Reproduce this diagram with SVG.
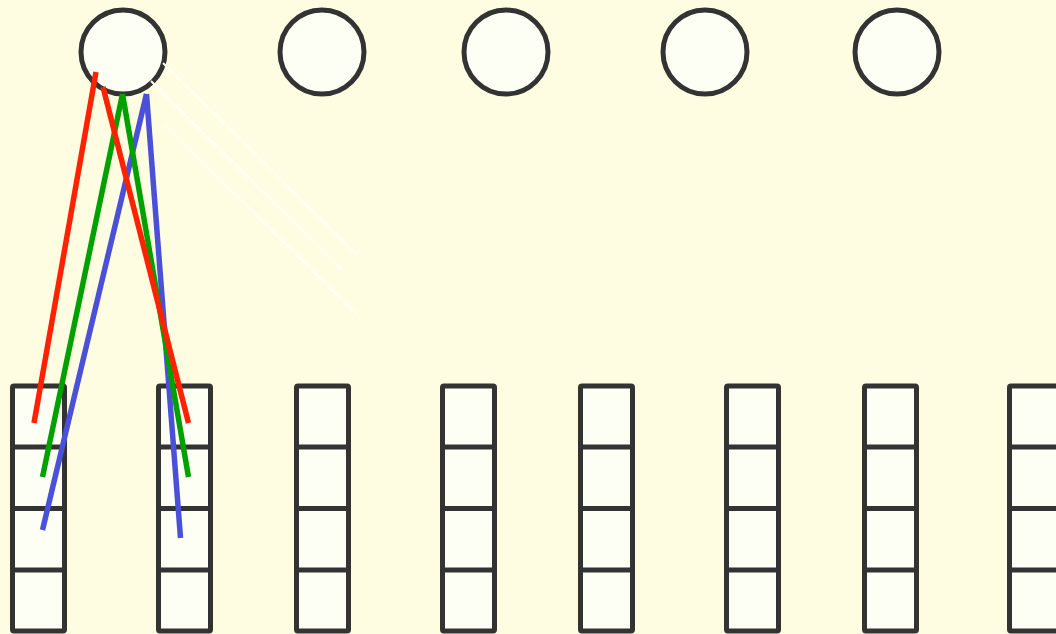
<svg xmlns="http://www.w3.org/2000/svg" width="1056" height="634" viewBox="0 0 1056 634">
<style>
.n{fill:#fdfff4;stroke:#333333;stroke-width:5}
.d{stroke:#333333;stroke-width:5;fill:none}
.c{fill:none;stroke-width:5.5;stroke-linecap:butt}
.r{stroke:#ff2200}.g{stroke:#00a000}.b{stroke:#4a50d8}
.w{stroke:#fffff2;stroke-width:2;fill:none}
</style>
<defs>
<g id="col">
<rect class="n" x="0" y="0" width="52" height="245" rx="1.5"/>
<line class="d" x1="0" y1="61" x2="52" y2="61"/>
<line class="d" x1="0" y1="122.5" x2="52" y2="122.5"/>
<line class="d" x1="0" y1="184" x2="52" y2="184"/>
</g>
</defs>
<rect width="1056" height="634" fill="#fffde1"/>
<g id="circle1"><circle class="n" cx="123" cy="52" r="42"/></g>
<g id="circle2"><circle class="n" cx="322" cy="52" r="42"/></g>
<g id="circle3"><circle class="n" cx="506" cy="52" r="42"/></g>
<g id="circle4"><circle class="n" cx="705" cy="52" r="42"/></g>
<g id="circle5"><circle class="n" cx="897" cy="52" r="42"/></g>
<g id="column1"><use href="#col" x="12.5" y="386"/></g>
<g id="column2"><use href="#col" x="158.5" y="386"/></g>
<g id="column3"><use href="#col" x="296.5" y="386"/></g>
<g id="column4"><use href="#col" x="442.5" y="386"/></g>
<g id="column5"><use href="#col" x="580.5" y="386"/></g>
<g id="column6"><use href="#col" x="726.5" y="386"/></g>
<g id="column7"><use href="#col" x="864.5" y="386"/></g>
<g id="column8"><use href="#col" x="1009.5" y="386"/></g>
<g id="connectors">
<line class="w" x1="163" y1="63" x2="357" y2="255"/>
<line class="w" x1="151" y1="81" x2="342" y2="270"/>
<line class="w" x1="166" y1="126" x2="357" y2="315"/>
<line class="c r" x1="96" y1="72" x2="34" y2="423"/>
<line class="c g" x1="122.5" y1="94" x2="42.5" y2="477"/>
<line class="c b" x1="146.5" y1="94" x2="42.5" y2="530"/>
<line class="c b" x1="146.5" y1="94" x2="180.5" y2="538"/>
<line class="c g" x1="122.5" y1="94" x2="188.5" y2="477"/>
<line class="c r" x1="103" y1="87" x2="188.5" y2="423"/>
</g>
</svg>
